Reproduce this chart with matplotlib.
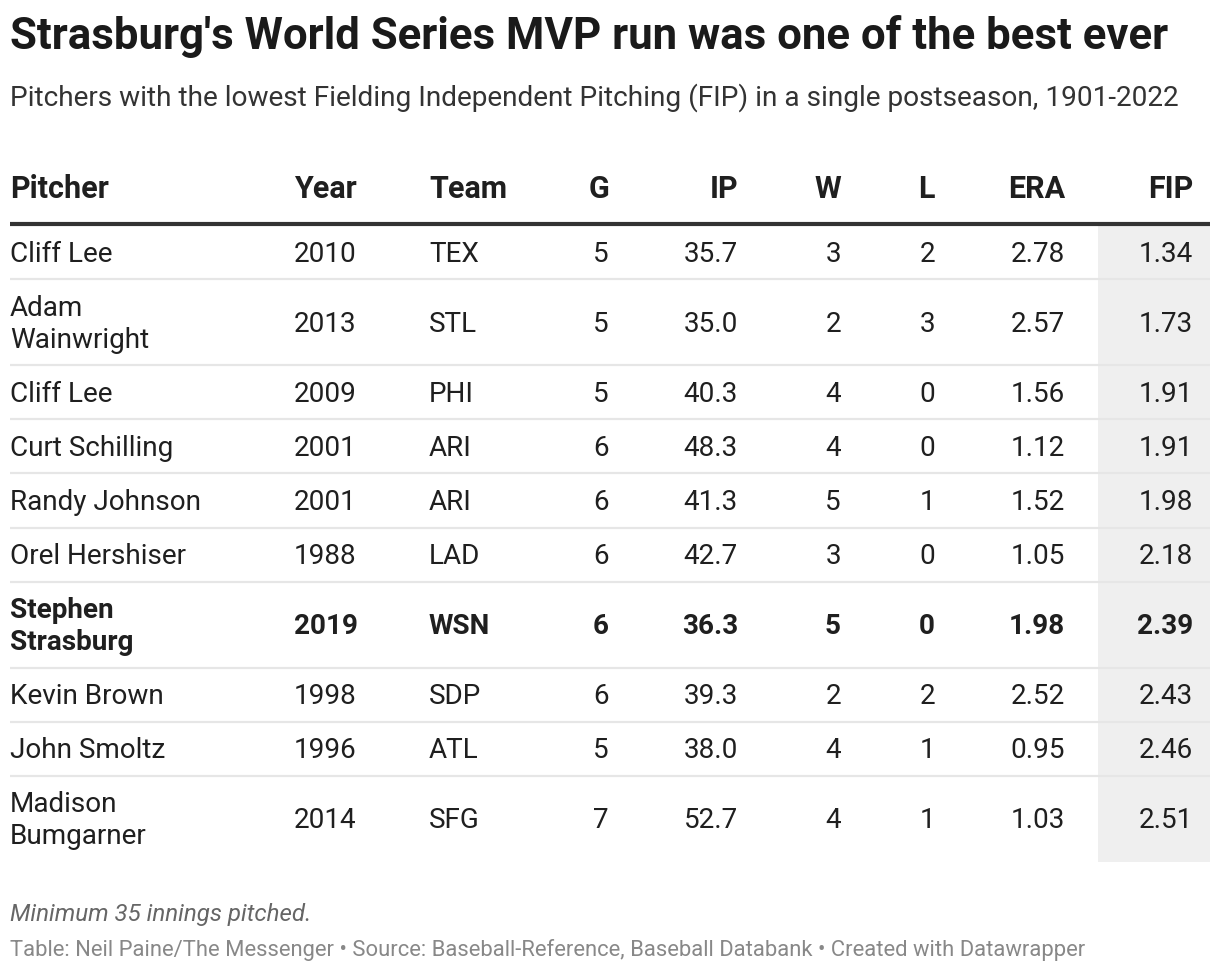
import textwrap
import matplotlib
matplotlib.use("Agg")
import matplotlib.pyplot as plt
from matplotlib.patches import Rectangle

plt.rcParams['font.family'] = ['Roboto', 'DejaVu Sans']

# ---- data ----
title = "Strasburg's World Series MVP run was one of the best ever"
subtitle = "Pitchers with the lowest Fielding Independent Pitching (FIP) in a single postseason, 1901-2022"
columns = ["Pitcher", "Year", "Team", "G", "IP", "W", "L", "ERA", "FIP"]
pitchers = ["Cliff Lee", "Adam Wainwright", "Cliff Lee", "Curt Schilling", "Randy Johnson",
            "Orel Hershiser", "Stephen Strasburg", "Kevin Brown", "John Smoltz", "Madison Bumgarner"]
years = [2010, 2013, 2009, 2001, 2001, 1988, 2019, 1998, 1996, 2014]
teams = ["TEX", "STL", "PHI", "ARI", "ARI", "LAD", "WSN", "SDP", "ATL", "SFG"]
games = [5, 5, 5, 6, 6, 6, 6, 6, 5, 7]
innings = [35.7, 35.0, 40.3, 48.3, 41.3, 42.7, 36.3, 39.3, 38.0, 52.7]
wins = [3, 2, 4, 4, 5, 3, 5, 2, 4, 4]
losses = [2, 3, 0, 0, 1, 0, 0, 2, 1, 1]
era = [2.78, 2.57, 1.56, 1.12, 1.52, 1.05, 1.98, 2.52, 0.95, 1.03]
fip = [1.34, 1.73, 1.91, 1.91, 1.98, 2.18, 2.39, 2.43, 2.46, 2.51]
highlight = "Stephen Strasburg"
note = "Minimum 35 innings pitched."
credit = ("Table: Neil Paine/The Messenger \u2022 Source: Baseball-Reference, Baseball Databank "
          "\u2022 Created with Datawrapper")

# ---- layout ----
W, H = 1220, 974
fig = plt.figure(figsize=(W / 100, H / 100), dpi=100)
ax = fig.add_axes([0, 0, 1, 1])
ax.set_xlim(0, W)
ax.set_ylim(H, 0)
ax.axis('off')

dark = '#1f1f1f'
left, right = 10, 1210
# x anchor and alignment per column
col_x = [10, 294, 429, 609, 738, 841, 935, 1065, 1193]
col_ha = ['left', 'left', 'left', 'right', 'right', 'right', 'right', 'right', 'right']
fs = 20.1

ax.text(10, 37, title, fontsize=31.5, fontweight='bold', color='#1a1a1a', va='center', ha='left')
ax.text(10, 98, subtitle, fontsize=20.2, color='#333333', va='center', ha='left')

for name, x, ha in zip(columns, col_x, col_ha):
    ax.text(x, 189, name, fontsize=22, fontweight='bold', color=dark, va='center', ha=ha)

header_line = 224
single_h, double_h = 54.2, 85.8
rows = []
for i in range(len(pitchers)):
    nm = textwrap.fill(pitchers[i], 14)
    rows.append([nm, str(years[i]), teams[i], str(games[i]), f"{innings[i]:.1f}",
                 str(wins[i]), str(losses[i]), f"{era[i]:.2f}", f"{fip[i]:.2f}"])

heights = [double_h if '\n' in r[0] else single_h for r in rows]
total = sum(heights)
# FIP shading
ax.add_patch(Rectangle((1098, header_line + 2), right - 1098, total - 1,
                       facecolor='#efefef', edgecolor='none', zorder=0))

y = header_line + 1
for i, (r, h) in enumerate(zip(rows, heights)):
    cy = y + h / 2 + 2
    bold = pitchers[i] == highlight
    for val, x, ha in zip(r, col_x, col_ha):
        ax.text(x, cy, val, fontsize=fs, color=dark, va='center', ha=ha,
                fontweight='bold' if bold else 'normal', linespacing=1.24, zorder=3)
    y += h
    if i < len(rows) - 1:
        ax.plot([left, right], [y, y], color='#e6e6e6', lw=1.6, zorder=2, solid_capstyle='butt')

ax.plot([left, right], [header_line, header_line], color='#333333', lw=3, zorder=4, solid_capstyle='butt')

ax.text(10, 914, note, fontsize=17.4, fontstyle='italic', color='#666666', va='center', ha='left')
ax.text(10, 950, credit, fontsize=15.85, color='#888888', va='center', ha='left')

fig.savefig('out.png', dpi=100, facecolor='white')
